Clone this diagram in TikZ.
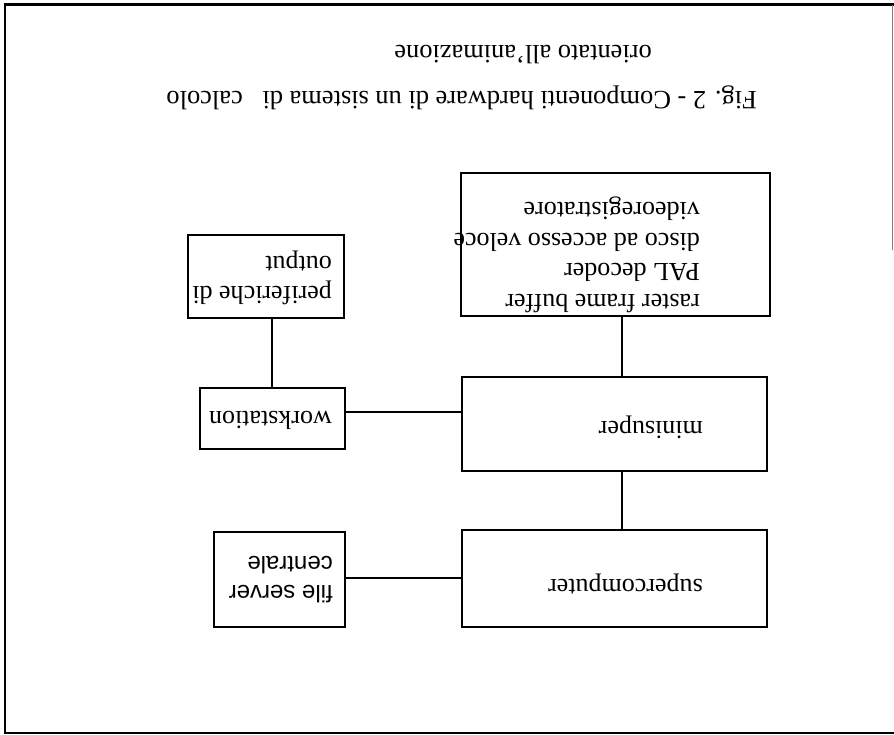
\documentclass[tikz,border=0pt]{standalone}
\usepackage{fontspec}
\setmainfont{Liberation Serif}
\newfontfamily\sanslbl{Liberation Sans}
\begin{document}
\begin{tikzpicture}[x=1pt,y=-1pt,
  box/.style={draw, line width=1.8pt, inner sep=0pt},
  lbl/.style={rotate=180, anchor=base west, inner sep=0pt, font=\fontsize{26}{30}\selectfont},
  slbl/.style={rotate=180, anchor=base west, inner sep=0pt, font=\sanslbl\fontsize{24}{28}\selectfont},
  wire/.style={line width=1.6pt}]
\useasboundingbox (0,0) rectangle (894,735);

% sheet border (page turned upside down)
\draw[line width=2.6pt] (894,733) -- (5,733) -- (5,4.5) -- (894,4.5);
\draw[gray, line width=1pt] (892.5,5) -- (892.5,250);

% boxes
\node[box, minimum width=309pt, minimum height=143pt] (top)   at (615.5,244.5) {};
\node[box, minimum width=305pt, minimum height=94pt]  (mini)  at (614.5,424) {};
\node[box, minimum width=305pt, minimum height=97pt]  (super) at (614.5,578.5) {};
\node[box, minimum width=145pt, minimum height=61pt]  (ws)    at (272.5,418.5) {};
\node[box, minimum width=156pt, minimum height=83pt]  (peri)  at (266,276.5) {};
\node[box, minimum width=131pt, minimum height=95pt]  (fs)    at (279.5,579.5) {};

% box texts
\node[lbl] (t1) at (700,294.5) {raster frame buffer};
\node[lbl] (t2) at (700,264) {PAL decoder};
\node[lbl] (t3) at (700,233.5) {disco ad accesso veloce};
\node[lbl] (t4) at (700,203) {videoregistratore};
\node[lbl] (tm) at (703,421) {minisuper};
\node[lbl] (ts) at (703,579) {supercomputer};
\node[lbl] (tw) at (332,411) {workstation};
\node[lbl] (tp1) at (332,287) {periferiche di};
\node[lbl] (tp2) at (332,257) {output};
\node[slbl] (tf1) at (333,585) {file server};
\node[slbl] (tf2) at (333,556) {centrale};

% caption
\node[lbl, font=\fontsize{26.4}{30}\selectfont] (cap1) at (757,92) {Fig. 2 - Componenti hardware di un sistema di\ \ \ calcolo};
\node[lbl, font=\fontsize{26.4}{30}\selectfont] (cap2) at (652,46) {orientato all'animazione};

% connectors
\coordinate (vx) at (622,0);
\coordinate (px) at (272,0);
\coordinate (wy) at (0,412);
\coordinate (fy) at (0,578);
\draw[wire] (top.south -| vx) -- (mini.north -| vx);
\draw[wire] (mini.south -| vx) -- (super.north -| vx);
\draw[wire] (ws.east |- wy) -- (mini.west |- wy);
\draw[wire] (fs.east |- fy) -- (super.west |- fy);
\draw[wire] (peri.south -| px) -- (ws.north -| px);
\end{tikzpicture}
\end{document}
